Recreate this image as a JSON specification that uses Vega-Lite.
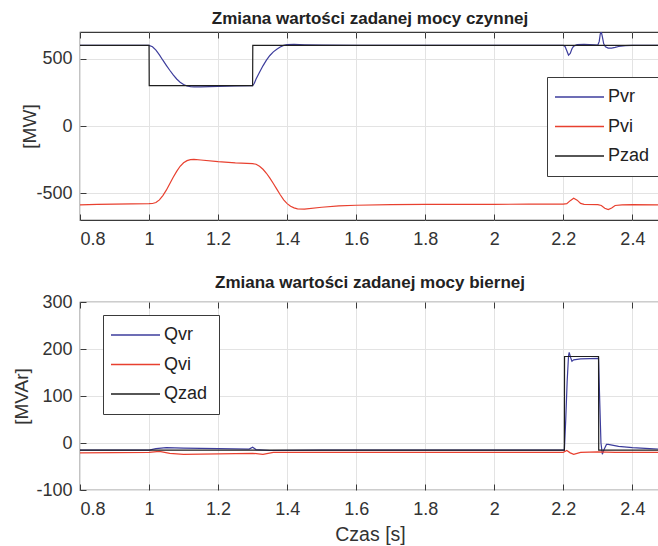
{
  "$schema": "https://vega.github.io/schema/vega-lite/v6.json",
  "padding": {"left": 12, "top": 9, "right": 0, "bottom": 0},
  "background": "white",
  "spacing": 24,
  "datasets": {
    "top": [
      {"s": "Pvr", "t": 0.8, "v": 600}, {"s": "Pvr", "t": 1.0, "v": 600}, {"s": "Pvr", "t": 1.01, "v": 590}, {"s": "Pvr", "t": 1.02, "v": 565}, {"s": "Pvr", "t": 1.03, "v": 530}, {"s": "Pvr", "t": 1.04, "v": 490}, {"s": "Pvr", "t": 1.05, "v": 452}, {"s": "Pvr", "t": 1.06, "v": 415}, {"s": "Pvr", "t": 1.07, "v": 380}, {"s": "Pvr", "t": 1.08, "v": 350}, {"s": "Pvr", "t": 1.09, "v": 326}, {"s": "Pvr", "t": 1.1, "v": 309}, {"s": "Pvr", "t": 1.11, "v": 298}, {"s": "Pvr", "t": 1.12, "v": 293}, {"s": "Pvr", "t": 1.13, "v": 291}, {"s": "Pvr", "t": 1.15, "v": 292}, {"s": "Pvr", "t": 1.2, "v": 295}, {"s": "Pvr", "t": 1.25, "v": 298}, {"s": "Pvr", "t": 1.3, "v": 300}, {"s": "Pvr", "t": 1.305, "v": 318}, {"s": "Pvr", "t": 1.31, "v": 350}, {"s": "Pvr", "t": 1.32, "v": 400}, {"s": "Pvr", "t": 1.33, "v": 448}, {"s": "Pvr", "t": 1.34, "v": 490}, {"s": "Pvr", "t": 1.35, "v": 525}, {"s": "Pvr", "t": 1.36, "v": 552}, {"s": "Pvr", "t": 1.37, "v": 572}, {"s": "Pvr", "t": 1.38, "v": 588}, {"s": "Pvr", "t": 1.39, "v": 600}, {"s": "Pvr", "t": 1.4, "v": 606}, {"s": "Pvr", "t": 1.42, "v": 608}, {"s": "Pvr", "t": 1.45, "v": 605}, {"s": "Pvr", "t": 1.5, "v": 602}, {"s": "Pvr", "t": 1.6, "v": 600}, {"s": "Pvr", "t": 2.2, "v": 600}, {"s": "Pvr", "t": 2.205, "v": 592}, {"s": "Pvr", "t": 2.21, "v": 560}, {"s": "Pvr", "t": 2.215, "v": 528}, {"s": "Pvr", "t": 2.22, "v": 540}, {"s": "Pvr", "t": 2.225, "v": 575}, {"s": "Pvr", "t": 2.23, "v": 595}, {"s": "Pvr", "t": 2.24, "v": 606}, {"s": "Pvr", "t": 2.26, "v": 608}, {"s": "Pvr", "t": 2.29, "v": 605}, {"s": "Pvr", "t": 2.3, "v": 603}, {"s": "Pvr", "t": 2.304, "v": 630}, {"s": "Pvr", "t": 2.307, "v": 685}, {"s": "Pvr", "t": 2.31, "v": 700}, {"s": "Pvr", "t": 2.313, "v": 665}, {"s": "Pvr", "t": 2.317, "v": 612}, {"s": "Pvr", "t": 2.322, "v": 590}, {"s": "Pvr", "t": 2.33, "v": 580}, {"s": "Pvr", "t": 2.34, "v": 580}, {"s": "Pvr", "t": 2.35, "v": 585}, {"s": "Pvr", "t": 2.36, "v": 592}, {"s": "Pvr", "t": 2.38, "v": 598}, {"s": "Pvr", "t": 2.4, "v": 600}, {"s": "Pvr", "t": 2.48, "v": 600},
      {"s": "Pvi", "t": 0.8, "v": -588}, {"s": "Pvi", "t": 0.85, "v": -584}, {"s": "Pvi", "t": 0.9, "v": -582}, {"s": "Pvi", "t": 0.95, "v": -580}, {"s": "Pvi", "t": 1.0, "v": -578}, {"s": "Pvi", "t": 1.01, "v": -577}, {"s": "Pvi", "t": 1.02, "v": -570}, {"s": "Pvi", "t": 1.03, "v": -550}, {"s": "Pvi", "t": 1.04, "v": -518}, {"s": "Pvi", "t": 1.05, "v": -478}, {"s": "Pvi", "t": 1.06, "v": -430}, {"s": "Pvi", "t": 1.07, "v": -382}, {"s": "Pvi", "t": 1.08, "v": -338}, {"s": "Pvi", "t": 1.09, "v": -300}, {"s": "Pvi", "t": 1.1, "v": -274}, {"s": "Pvi", "t": 1.11, "v": -258}, {"s": "Pvi", "t": 1.12, "v": -251}, {"s": "Pvi", "t": 1.13, "v": -249}, {"s": "Pvi", "t": 1.15, "v": -253}, {"s": "Pvi", "t": 1.2, "v": -265}, {"s": "Pvi", "t": 1.25, "v": -274}, {"s": "Pvi", "t": 1.3, "v": -280}, {"s": "Pvi", "t": 1.31, "v": -285}, {"s": "Pvi", "t": 1.32, "v": -300}, {"s": "Pvi", "t": 1.33, "v": -322}, {"s": "Pvi", "t": 1.34, "v": -352}, {"s": "Pvi", "t": 1.35, "v": -388}, {"s": "Pvi", "t": 1.36, "v": -428}, {"s": "Pvi", "t": 1.37, "v": -470}, {"s": "Pvi", "t": 1.38, "v": -512}, {"s": "Pvi", "t": 1.39, "v": -550}, {"s": "Pvi", "t": 1.4, "v": -578}, {"s": "Pvi", "t": 1.41, "v": -598}, {"s": "Pvi", "t": 1.42, "v": -610}, {"s": "Pvi", "t": 1.43, "v": -617}, {"s": "Pvi", "t": 1.45, "v": -619}, {"s": "Pvi", "t": 1.5, "v": -605}, {"s": "Pvi", "t": 1.55, "v": -595}, {"s": "Pvi", "t": 1.6, "v": -590}, {"s": "Pvi", "t": 1.7, "v": -586}, {"s": "Pvi", "t": 1.8, "v": -584}, {"s": "Pvi", "t": 1.9, "v": -583}, {"s": "Pvi", "t": 2.0, "v": -583}, {"s": "Pvi", "t": 2.1, "v": -582}, {"s": "Pvi", "t": 2.2, "v": -582}, {"s": "Pvi", "t": 2.21, "v": -578}, {"s": "Pvi", "t": 2.22, "v": -556}, {"s": "Pvi", "t": 2.23, "v": -538}, {"s": "Pvi", "t": 2.24, "v": -552}, {"s": "Pvi", "t": 2.25, "v": -576}, {"s": "Pvi", "t": 2.26, "v": -584}, {"s": "Pvi", "t": 2.3, "v": -585}, {"s": "Pvi", "t": 2.31, "v": -592}, {"s": "Pvi", "t": 2.32, "v": -612}, {"s": "Pvi", "t": 2.33, "v": -623}, {"s": "Pvi", "t": 2.34, "v": -610}, {"s": "Pvi", "t": 2.35, "v": -592}, {"s": "Pvi", "t": 2.37, "v": -588}, {"s": "Pvi", "t": 2.4, "v": -586}, {"s": "Pvi", "t": 2.48, "v": -588},
      {"s": "Pzad", "t": 0.8, "v": 600}, {"s": "Pzad", "t": 1.0, "v": 600}, {"s": "Pzad", "t": 1.0005, "v": 300}, {"s": "Pzad", "t": 1.3, "v": 300}, {"s": "Pzad", "t": 1.3005, "v": 600}, {"s": "Pzad", "t": 2.48, "v": 600}
    ],
    "bot": [
      {"s": "Qvr", "t": 0.8, "v": -15}, {"s": "Qvr", "t": 1.0, "v": -15}, {"s": "Qvr", "t": 1.02, "v": -12}, {"s": "Qvr", "t": 1.05, "v": -10}, {"s": "Qvr", "t": 1.1, "v": -11}, {"s": "Qvr", "t": 1.2, "v": -12}, {"s": "Qvr", "t": 1.29, "v": -13}, {"s": "Qvr", "t": 1.3, "v": -9}, {"s": "Qvr", "t": 1.31, "v": -14}, {"s": "Qvr", "t": 1.35, "v": -16}, {"s": "Qvr", "t": 1.5, "v": -15}, {"s": "Qvr", "t": 2.203, "v": -15}, {"s": "Qvr", "t": 2.207, "v": 50}, {"s": "Qvr", "t": 2.211, "v": 130}, {"s": "Qvr", "t": 2.215, "v": 185}, {"s": "Qvr", "t": 2.217, "v": 193}, {"s": "Qvr", "t": 2.221, "v": 182}, {"s": "Qvr", "t": 2.225, "v": 174}, {"s": "Qvr", "t": 2.23, "v": 177}, {"s": "Qvr", "t": 2.25, "v": 179}, {"s": "Qvr", "t": 2.302, "v": 180}, {"s": "Qvr", "t": 2.305, "v": 100}, {"s": "Qvr", "t": 2.309, "v": 0}, {"s": "Qvr", "t": 2.313, "v": -24}, {"s": "Qvr", "t": 2.318, "v": -14}, {"s": "Qvr", "t": 2.325, "v": -3}, {"s": "Qvr", "t": 2.33, "v": -3}, {"s": "Qvr", "t": 2.36, "v": -7}, {"s": "Qvr", "t": 2.4, "v": -10}, {"s": "Qvr", "t": 2.45, "v": -12}, {"s": "Qvr", "t": 2.48, "v": -13},
      {"s": "Qvi", "t": 0.8, "v": -21}, {"s": "Qvi", "t": 1.0, "v": -20}, {"s": "Qvi", "t": 1.03, "v": -18}, {"s": "Qvi", "t": 1.06, "v": -22}, {"s": "Qvi", "t": 1.1, "v": -24}, {"s": "Qvi", "t": 1.2, "v": -23}, {"s": "Qvi", "t": 1.3, "v": -22}, {"s": "Qvi", "t": 1.33, "v": -24}, {"s": "Qvi", "t": 1.36, "v": -20}, {"s": "Qvi", "t": 1.5, "v": -20}, {"s": "Qvi", "t": 2.0, "v": -20}, {"s": "Qvi", "t": 2.2, "v": -20}, {"s": "Qvi", "t": 2.21, "v": -16}, {"s": "Qvi", "t": 2.22, "v": -21}, {"s": "Qvi", "t": 2.23, "v": -24}, {"s": "Qvi", "t": 2.25, "v": -20}, {"s": "Qvi", "t": 2.3, "v": -19}, {"s": "Qvi", "t": 2.35, "v": -20}, {"s": "Qvi", "t": 2.48, "v": -20},
      {"s": "Qzad", "t": 0.8, "v": -15}, {"s": "Qzad", "t": 2.203, "v": -15}, {"s": "Qzad", "t": 2.2035, "v": 184}, {"s": "Qzad", "t": 2.302, "v": 184}, {"s": "Qzad", "t": 2.3025, "v": -15}, {"s": "Qzad", "t": 2.48, "v": -15}
    ]
  },
  "vconcat": [
    {
      "width": 580,
      "height": 188,
      "data": {"name": "top"},
      "title": {"text": "Zmiana wartości zadanej mocy czynnej"},
      "layer": [
        {
          "mark": {"type": "line", "strokeWidth": 1.2, "clip": true},
          "encoding": {
            "x": {"field": "t", "type": "quantitative", "scale": {"domain": [0.8, 2.48], "nice": false, "zero": false},
                  "axis": {"title": null, "values": [0.8, 1, 1.2, 1.4, 1.6, 1.8, 2, 2.2, 2.4], "labelExpr": "'' + datum.value"}},
            "y": {"field": "v", "type": "quantitative", "scale": {"domain": [-700, 700], "nice": false},
                  "axis": {"title": "[MW]", "values": [-500, 0, 500], "labelExpr": "'' + datum.value", "titlePadding": -4}},
            "color": {"field": "s", "type": "nominal",
                      "scale": {"domain": ["Pvr", "Pvi", "Pzad"], "range": ["#3d3d9c", "#e8402f", "#1e1e1e"]},
                      "legend": {"title": null, "orient": "none", "legendX": 467, "legendY": 45}}
          }
        },
        {
          "mark": {"type": "point", "opacity": 0},
          "encoding": {
            "x": {"field": "t", "type": "quantitative",
                  "axis": {"orient": "top", "title": null, "labels": false, "grid": false, "values": [0.8, 1, 1.2, 1.4, 1.6, 1.8, 2, 2.2, 2.4]}},
            "y": {"field": "v", "type": "quantitative"}
          }
        }
      ],
      "resolve": {"axis": {"x": "independent"}}
    },
    {
      "width": 580,
      "height": 188,
      "data": {"name": "bot"},
      "title": {"text": "Zmiana wartości zadanej mocy biernej"},
      "layer": [
        {
          "mark": {"type": "line", "strokeWidth": 1.2, "clip": true},
          "encoding": {
            "x": {"field": "t", "type": "quantitative", "scale": {"domain": [0.8, 2.48], "nice": false, "zero": false},
                  "axis": {"title": "Czas [s]", "values": [0.8, 1, 1.2, 1.4, 1.6, 1.8, 2, 2.2, 2.4], "labelExpr": "'' + datum.value"}},
            "y": {"field": "v", "type": "quantitative", "scale": {"domain": [-100, 300], "nice": false},
                  "axis": {"title": "[MVAr]", "values": [-100, 0, 100, 200, 300], "labelExpr": "'' + datum.value", "titlePadding": 4}},
            "color": {"field": "s", "type": "nominal",
                      "scale": {"domain": ["Qvr", "Qvi", "Qzad"], "range": ["#3d3d9c", "#e8402f", "#1e1e1e"]},
                      "legend": {"title": null, "orient": "none", "legendX": 23, "legendY": 13}}
          }
        },
        {
          "mark": {"type": "point", "opacity": 0},
          "encoding": {
            "x": {"field": "t", "type": "quantitative",
                  "axis": {"orient": "top", "title": null, "labels": false, "grid": false, "values": [0.8, 1, 1.2, 1.4, 1.6, 1.8, 2, 2.2, 2.4]}},
            "y": {"field": "v", "type": "quantitative"}
          }
        }
      ],
      "resolve": {"axis": {"x": "independent"}}
    }
  ],
  "resolve": {"scale": {"color": "independent"}, "legend": {"color": "independent"}},
  "config": {
    "font": "Liberation Sans",
    "view": {"stroke": "#3a3a3a", "strokeWidth": 1.2},
    "title": {"fontSize": 17, "fontWeight": "bold", "color": "#222", "offset": 1, "anchor": "middle"},
    "axis": {
      "domain": false,
      "grid": true,
      "gridColor": "#e3e3e3",
      "gridWidth": 1,
      "tickSize": -6,
      "tickColor": "#3a3a3a",
      "tickWidth": 1,
      "labelFontSize": 18,
      "labelColor": "#333",
      "labelPadding": 14,
      "titleFontSize": 19,
      "titleFontWeight": "normal",
      "titleColor": "#333"
    },
    "axisX": {"labelPadding": 16, "titlePadding": 7, "titleFontSize": 19.5},
    "legend": {
      "strokeColor": "#3a3a3a",
      "fillColor": "white",
      "padding": 11,
      "cornerRadius": 0,
      "symbolType": "M-2.4,0H7.4",
      "symbolSize": 100,
      "symbolStrokeWidth": 1.5,
      "labelFontSize": 18,
      "labelColor": "#222",
      "labelOffset": 32,
      "rowPadding": 11.5,
      "labelLimit": 80
    }
  }
}
